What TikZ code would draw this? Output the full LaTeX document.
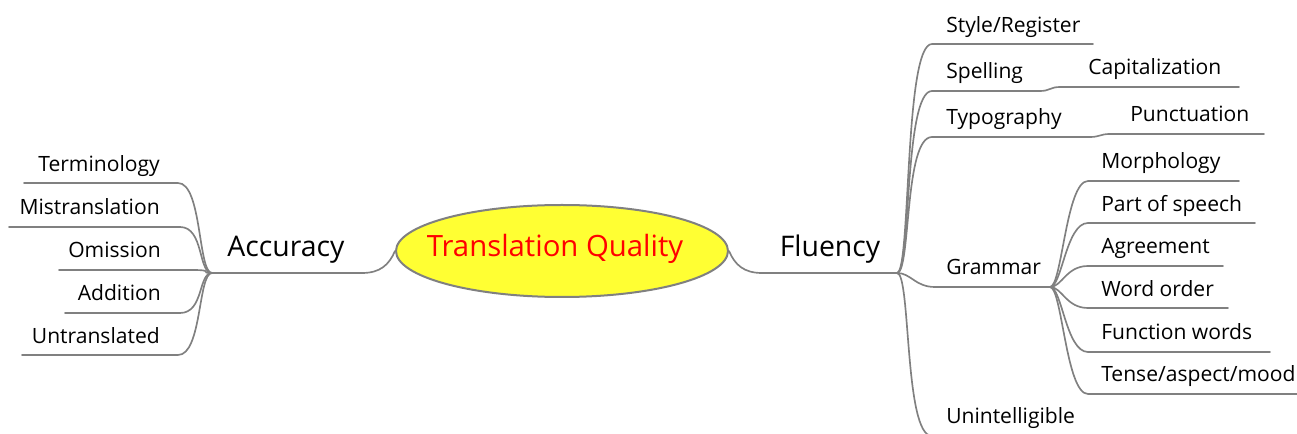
\documentclass[tikz,border=0pt]{standalone}
\usepackage{fontspec}
\setmainfont{Open Sans}
\usetikzlibrary{shapes.geometric}
\definecolor{linegray}{HTML}{808080}
\definecolor{rootfill}{HTML}{FFFF33}
\begin{document}
\begin{tikzpicture}[x=0.75pt,y=-0.75pt,
  branch/.style={draw=linegray, line width=1.25pt, line cap=round},
  leaf/.style={font=\fontsize{15.8}{19}\selectfont, inner sep=0pt},
  topic/.style={font=\fontsize{21.3}{25}\selectfont, inner sep=0pt}]
\useasboundingbox (0,0) rectangle (1297,434);

% central topic
\node[ellipse, draw=linegray, line width=1.5pt, fill=rootfill,
      minimum width=249pt, minimum height=69pt, inner sep=0pt] (root) at (562,251) {};
\node[topic, anchor=base, text=red, font=\fontsize{22}{26}\selectfont] (title) at (555,257) {Translation Quality};

% ---------------- Accuracy ----------------
\node[topic, anchor=base] (acc) at (286,257) {Accuracy};
\coordinate (hA) at (212,273);
\coordinate (accR) at (362,273);
\draw[branch] (root.west) .. controls +(-6,14) and +(18,0) .. (accR) -- (hA);

\node[leaf, anchor=base east] (term) at (160,172) {Terminology};
\node[leaf, anchor=base east] (mist) at (160,215) {Mistranslation};
\node[leaf, anchor=base east] (omis) at (161,258) {Omission};
\node[leaf, anchor=base east] (addi) at (161,301) {Addition};
\node[leaf, anchor=base east] (untr) at (160,344) {Untranslated};

\coordinate (termR) at (178,183); \coordinate (termL) at (24,183);
\coordinate (mistR) at (180,227); \coordinate (mistL) at (9,227);
\coordinate (omisR) at (192,270); \coordinate (omisL) at (59,270);
\coordinate (addiR) at (180,313); \coordinate (addiL) at (65,313);
\coordinate (untrR) at (178,355); \coordinate (untrL) at (22,355);

\foreach \n in {term,mist,omis,addi,untr}
  \draw[branch] (hA) .. controls +(-14,0) and +(24,0) .. (\n R) -- (\n L);

% ---------------- Fluency ----------------
\node[topic, anchor=base] (flu) at (830,257) {Fluency};
\coordinate (hF) at (897,273);
\coordinate (fluL) at (762,273);
\draw[branch] (root.east) .. controls +(6,14) and +(-18,0) .. (fluL) -- (hF);

\node[leaf, anchor=base west] (style) at (946,33) {Style/Register};
\node[leaf, anchor=base west] (spell) at (946,79) {Spelling};
\node[leaf, anchor=base west] (capit) at (1088,75) {Capitalization};
\node[leaf, anchor=base west] (typo) at (946,125) {Typography};
\node[leaf, anchor=base west] (punct) at (1130,122) {Punctuation};
\node[leaf, anchor=base west] (gram) at (946,275) {Grammar};
\node[leaf, anchor=base west] (unint) at (946,424) {Unintelligible};

\coordinate (styleL) at (932,44);  \coordinate (styleR) at (1093,44);
\coordinate (spellL) at (932,91);  \coordinate (spellR) at (1040,91);
\coordinate (capitL) at (1060,87); \coordinate (capitR) at (1239,87);
\coordinate (typoL) at (932,137);  \coordinate (typoR) at (1090,137);
\coordinate (punctL) at (1110,134);\coordinate (punctR) at (1264,134);
\coordinate (gramL) at (935,287);  \coordinate (hG) at (1050,287);
\coordinate (unintL) at (932,436); \coordinate (unintR) at (1090,436);

\draw[branch] (hF) .. controls +(14,0) and +(-28,0) .. (styleL) -- (styleR);
\draw[branch] (hF) .. controls +(14,0) and +(-28,0) .. (spellL) -- (spellR)
  .. controls +(10,0) and +(-10,0) .. (capitL) -- (capitR);
\draw[branch] (hF) .. controls +(14,0) and +(-28,0) .. (typoL) -- (typoR)
  .. controls +(10,0) and +(-10,0) .. (punctL) -- (punctR);
\draw[branch] (hF) .. controls +(14,0) and +(-20,0) .. (gramL) -- (hG);
\draw[branch] (hF) .. controls +(14,0) and +(-28,0) .. (unintL) -- (unintR);

% ---------------- Grammar ----------------
\node[leaf, anchor=base west] (morph) at (1101,169) {Morphology};
\node[leaf, anchor=base west] (pos) at (1101,212) {Part of speech};
\node[leaf, anchor=base west] (agr) at (1101,254) {Agreement};
\node[leaf, anchor=base west] (word) at (1101,297) {Word order};
\node[leaf, anchor=base west] (func) at (1101,340) {Function words};
\node[leaf, anchor=base west] (tense) at (1101,382) {Tense/aspect/mood};

\coordinate (morphL) at (1088,181); \coordinate (morphR) at (1239,181);
\coordinate (posL) at (1088,223);   \coordinate (posR) at (1255,223);
\coordinate (agrL) at (1088,266);   \coordinate (agrR) at (1223,266);
\coordinate (wordL) at (1088,308);  \coordinate (wordR) at (1228,308);
\coordinate (funcL) at (1088,352);  \coordinate (funcR) at (1270,352);
\coordinate (tenseL) at (1088,394); \coordinate (tenseR) at (1297,394);

\foreach \n in {morph,pos,agr,word,func,tense}
  \draw[branch] (hG) .. controls +(12,0) and +(-22,0) .. (\n L) -- (\n R);
\end{tikzpicture}
\end{document}
